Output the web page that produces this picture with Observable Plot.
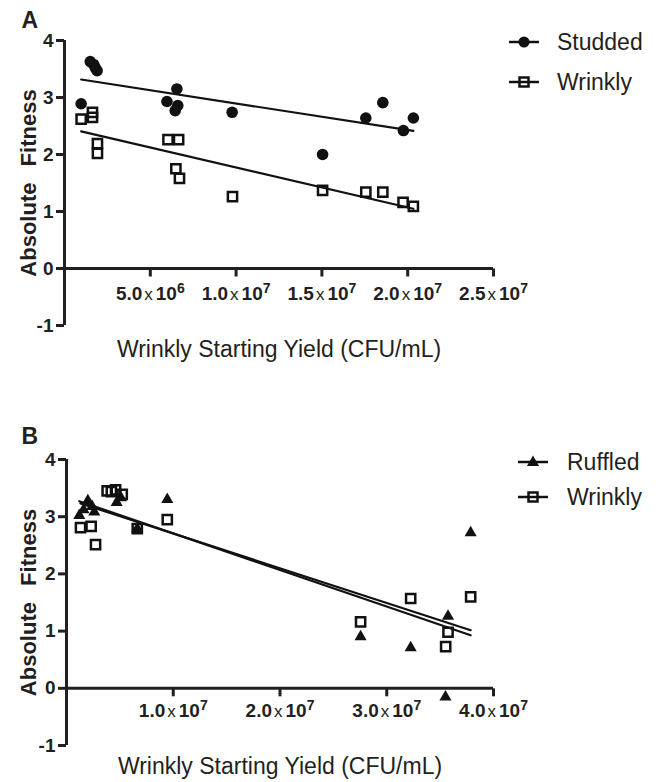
<!DOCTYPE html>
<html><head><meta charset="utf-8">
<script src="https://cdn.jsdelivr.net/npm/d3@7"></script>
<script src="https://cdn.jsdelivr.net/npm/@observablehq/plot@0.6"></script>
<style>
body{margin:0;background:#fff;}
#wrap{position:relative;width:661px;height:782px;font-family:"Liberation Sans",Arial,sans-serif;color:#231f20;}
#wrap > svg{display:block}
.leg{position:absolute;display:flex;align-items:center;height:30px;font-size:23px;white-space:nowrap;}
.leg svg{display:block}
</style></head><body><div id="wrap"></div>
<script>
// ---------- data ----------
// Panel A
const studdedX = [0.97e6, 1.5e6, 1.7e6, 1.8e6, 1.9e6, 5.97e6, 6.55e6, 6.6e6, 6.45e6, 9.77e6, 15.04e6, 17.56e6, 18.55e6, 19.75e6, 20.33e6];
const studdedY = [2.89, 3.63, 3.58, 3.52, 3.47, 2.93, 3.15, 2.86, 2.77, 2.74, 2.00, 2.64, 2.91, 2.42, 2.64];
const wrinklyAX = [0.97e6, 1.63e6, 1.63e6, 1.92e6, 1.92e6, 6.03e6, 6.65e6, 6.49e6, 6.7e6, 9.79e6, 15.04e6, 17.56e6, 18.55e6, 19.73e6, 20.33e6];
const wrinklyAY = [2.62, 2.74, 2.65, 2.19, 2.02, 2.26, 2.26, 1.75, 1.58, 1.26, 1.37, 1.34, 1.34, 1.16, 1.09];
// Panel B
const ruffledX = [1.2e6, 1.6e6, 2.0e6, 2.4e6, 2.6e6, 4.7e6, 5.1e6, 6.63e6, 9.44e6, 27.55e6, 32.24e6, 35.74e6, 35.5e6, 37.86e6];
const ruffledY = [3.02, 3.12, 3.28, 3.18, 3.08, 3.25, 3.33, 2.79, 3.30, 0.90, 0.71, 1.26, -0.15, 2.72];
const wrinklyBX = [1.31e6, 2.31e6, 2.72e6, 3.81e6, 4.2e6, 4.6e6, 5.22e6, 6.63e6, 9.44e6, 27.55e6, 32.24e6, 35.74e6, 35.52e6, 37.86e6];
const wrinklyBY = [2.81, 2.83, 2.51, 3.45, 3.44, 3.47, 3.39, 2.79, 2.95, 1.16, 1.57, 0.98, 0.73, 1.60];
// ticks & labels
const yTicks = [-1, 0, 1, 2, 3, 4];
const xTicksA = [5e6, 1e7, 1.5e7, 2e7, 2.5e7];
const xTicksB = [1e7, 2e7, 3e7, 4e7];
const xMaxA = 2.5e7, xMaxB = 4e7;
const yTitle = "Absolute Fitness";
const xTitle = "Wrinkly Starting Yield (CFU/mL)";
const legendA = ["Studded", "Wrinkly"];
const legendB = ["Ruffled", "Wrinkly"];
const letters = ["A", "B"];

// ---------- drawing ----------
const INK = "#231f20";
const MARK = "#111";
const zip = (xs, ys) => xs.map((x, i) => ({x, y: ys[i]}));
const fmt = d => { const e = Math.floor(Math.log10(d) + 1e-9); return (d / 10 ** e).toFixed(1) + "|" + e; };
const tickSym = {draw(ctx) { ctx.moveTo(0, 0); ctx.lineTo(0, 8); }};

function seriesMarks(data, kind) {
  const m = [];
  if (kind === "circle") m.push(Plot.dot(data, {x: "x", y: "y", r: 5.8, fill: MARK, symbol: "circle"}));
  if (kind === "triangle") m.push(Plot.dot(data, {x: "x", y: "y", r: 4.5, fill: MARK, symbol: "triangle"}));
  if (kind === "square") m.push(Plot.dot(data, {x: "x", y: "y", r: 5.2, fill: "none", stroke: MARK, strokeWidth: 2.5, symbol: "square"}));
  m.push(Plot.linearRegressionY(data, {x: "x", y: "y", ci: 0, stroke: MARK, strokeWidth: 2.2}));
  return m;
}

function panel({s1, k1, s2, k2, xMax, xTicks, marginLeft, marginTop, marginBottom, height, letter, letterBase, tickDy, titleDy}) {
  return Plot.plot({
    width: 661, height, marginLeft, marginRight: 168, marginTop, marginBottom,
    style: {fontFamily: "'Liberation Sans', Arial, sans-serif", background: "white", overflow: "visible"},
    x: {domain: [0, xMax], axis: null},
    y: {domain: [-1, 4]},
    marks: [
      Plot.axisY({ticks: yTicks, tickSize: 8, tickPadding: 3, fontSize: 19, fontWeight: "bold", label: null, color: INK, strokeWidth: 3, tickFormat: d => String(d)}),
      Plot.ruleX([0], {stroke: INK, strokeWidth: 3}),
      Plot.ruleY([0], {stroke: INK, strokeWidth: 3}),
      Plot.dot(xTicks, {x: d => d, y: () => 0, symbol: tickSym, stroke: INK, strokeWidth: 3, fill: "none"}),
      Plot.text(xTicks, {x: d => d, y: () => 0, text: fmt, dy: tickDy, lineAnchor: "bottom", fontSize: 19, fontWeight: "bold", fill: INK}),
      ...seriesMarks(s2, k2),
      ...seriesMarks(s1, k1),
      Plot.text([yTitle], {text: d => d, frameAnchor: "left", dx: 28.5 - marginLeft, rotate: -90, fontSize: 22, fontWeight: "bold", textAnchor: "middle", lineAnchor: "middle", fill: INK}),
      Plot.text([xTitle], {text: d => d, frameAnchor: "bottom", dy: titleDy, lineAnchor: "middle", fontSize: 23, fill: INK}),
      Plot.text([letter], {text: d => d, frameAnchor: "top-left", dx: 21 - marginLeft, dy: letterBase - marginTop, textAnchor: "start", lineAnchor: "bottom", fontSize: 23, fontWeight: "bold", fill: INK})
    ]
  });
}

function richTicks(svg) {
  d3.select(svg).selectAll("text").each(function() {
    const s = this.textContent;
    if (s === yTitle) { this.style.wordSpacing = "10px"; return; }
    if (!s.includes("|")) return;
    const [m, e] = s.split("|");
    const t = d3.select(this);
    t.text(null);
    t.append("tspan").text(m);
    t.append("tspan").attr("dx", 2).attr("font-weight", "normal").attr("font-size", 17).text("x");
    t.append("tspan").attr("dx", 3).text("10");
    t.append("tspan").attr("dy", -7).attr("font-size", 14).text(e);
  });
}

const wrap = document.getElementById("wrap");
const svgA = panel({s1: zip(studdedX, studdedY), k1: "circle", s2: zip(wrinklyAX, wrinklyAY), k2: "square",
  xMax: xMaxA, xTicks: xTicksA, marginLeft: 64, marginTop: 40, marginBottom: 45, height: 370,
  letter: letters[0], letterBase: 27, tickDy: 31, titleDy: 24});
const svgB = panel({s1: zip(ruffledX, ruffledY), k1: "triangle", s2: zip(wrinklyBX, wrinklyBY), k2: "square",
  xMax: xMaxB, xTicks: xTicksB, marginLeft: 66, marginTop: 89, marginBottom: 37, height: 412,
  letter: letters[1], letterBase: 73, tickDy: 29, titleDy: 21});
richTicks(svgA); richTicks(svgB);
wrap.appendChild(svgA); wrap.appendChild(svgB);

function markerSVG(kind) {
  const s = d3.create("svg").attr("width", 30).attr("height", 16);
  s.append("line").attr("x1", 0).attr("x2", 30).attr("y1", 8).attr("y2", 8).attr("stroke", MARK).attr("stroke-width", 2.5);
  if (kind === "circle") s.append("circle").attr("cx", 15).attr("cy", 8).attr("r", 5.5).attr("fill", MARK);
  if (kind === "square") s.append("rect").attr("x", 10.5).attr("y", 3.5).attr("width", 9).attr("height", 9).attr("fill", "none").attr("stroke", MARK).attr("stroke-width", 2.5);
  if (kind === "triangle") s.append("path").attr("d", d3.symbol(d3.symbolTriangle, 64)()).attr("transform", "translate(15,8.5)").attr("fill", MARK);
  return s.node();
}
function legendRow(cy, left, gap, kind, label) {
  const d = document.createElement("div");
  d.className = "leg";
  d.style.top = (cy - 15) + "px";
  d.style.left = left + "px";
  const m = markerSVG(kind);
  m.style.marginRight = gap + "px";
  d.appendChild(m);
  const t = document.createElement("span");
  t.textContent = label;
  d.appendChild(t);
  wrap.appendChild(d);
}
legendRow(42, 509, 18, "circle", legendA[0]);
legendRow(82, 509, 18, "square", legendA[1]);
legendRow(462, 518, 19, "triangle", legendB[0]);
legendRow(497, 518, 19, "square", legendB[1]);
</script></body></html>
